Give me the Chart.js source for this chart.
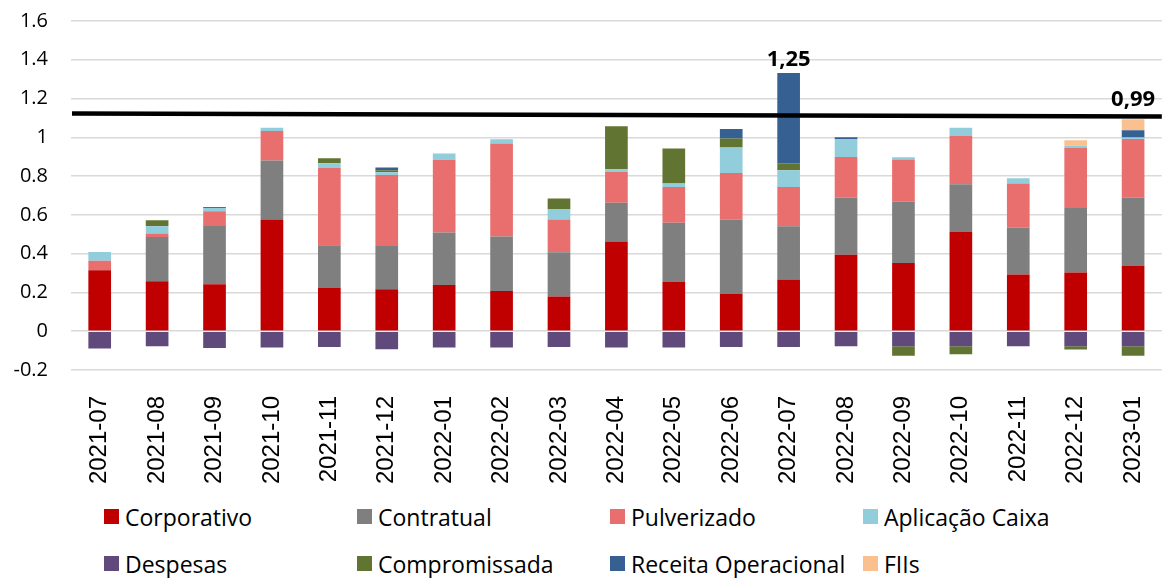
<!DOCTYPE html>
<html>
<head>
<meta charset="utf-8">
<script src="https://cdn.jsdelivr.net/npm/chart.js@4"></script>
<style>
    html, body { margin: 0; padding: 0; background: #fff; overflow: hidden; }
    #wrap { position: relative; width: 1180px; height: 578px; }
    #legend {
        position: absolute; left: 104px; top: 500px;
        display: grid; grid-template-columns: repeat(4, 253px); row-gap: 14px;
        font-family: "Open Sans", sans-serif; font-size: 23px; color: #000;
    }
    .item { display: flex; align-items: center; height: 33px; white-space: nowrap; }
    .box { width: 15px; height: 15px; margin-right: 6px; flex: none; }
</style>
</head>
<body>
<div id="wrap">
    <canvas id="chart" width="1180" height="490"></canvas>
    <div id="legend"></div>
</div>
<script>
const months = ['2021-07', '2021-08', '2021-09', '2021-10', '2021-11', '2021-12', '2022-01', '2022-02', '2022-03', '2022-04',
    '2022-05', '2022-06', '2022-07', '2022-08', '2022-09', '2022-10', '2022-11', '2022-12', '2023-01'];

const corporativo   = [0.315, 0.258, 0.242, 0.576, 0.223, 0.217, 0.239, 0.208, 0.179, 0.463, 0.254, 0.192, 0.267, 0.394, 0.352, 0.512, 0.292, 0.303, 0.337];
const contratual    = [0, 0.228, 0.301, 0.304, 0.221, 0.223, 0.270, 0.280, 0.228, 0.199, 0.305, 0.384, 0.274, 0.294, 0.317, 0.246, 0.243, 0.333, 0.353];
const pulverizado   = [0.048, 0.018, 0.076, 0.153, 0.398, 0.366, 0.375, 0.480, 0.169, 0.160, 0.185, 0.240, 0.203, 0.211, 0.217, 0.249, 0.227, 0.309, 0.302];
const aplicacao     = [0.045, 0.037, 0.017, 0.017, 0.024, 0.014, 0.032, 0.022, 0.055, 0.013, 0.018, 0.131, 0.086, 0.093, 0.011, 0.042, 0.027, 0.011, 0.007];
const despesas      = [-0.089, -0.077, -0.086, -0.084, -0.081, -0.093, -0.084, -0.084, -0.081, -0.084, -0.084, -0.081, -0.081, -0.077, -0.077, -0.077, -0.077, -0.077, -0.077];
const compromissada = [0, 0.031, 0.005, 0, 0.026, 0.010, 0, 0, 0.053, 0.222, 0.180, 0.047, 0.036, 0, -0.050, -0.042, 0, -0.017, -0.050];
const receita       = [0, 0, 0, 0, 0, 0.014, 0, 0, 0, 0, 0, 0.049, 0.466, 0.008, 0, 0, 0, 0, 0.038];
const fiis          = [0, 0, 0, 0, 0, 0, 0, 0, 0, 0, 0, 0, 0, 0, 0, 0, 0, 0.029, 0.056];

// net totals shown above two bars
const totalIdx  = [12, 18];
const totalText = ['1,25', '0,99'];

// target line (slightly tilted in the original)
const targetStart = 1.123;
const targetEnd   = 1.107;

const series = [
    ['Corporativo', corporativo, '#C00000'],
    ['Contratual', contratual, '#7F7F7F'],
    ['Pulverizado', pulverizado, '#E96F6E'],
    ['Aplicação Caixa', aplicacao, '#92CDDC'],
    ['Despesas', despesas, '#604A7B'],
    ['Compromissada', compromissada, '#617431'],
    ['Receita Operacional', receita, '#376092'],
    ['FIIs', fiis, '#FAC090']
];

const extras = {
    id: 'extras',
    afterDatasetsDraw(chart, args, opts) {
        const {ctx, chartArea, scales: {y}} = chart;
        ctx.save();
        // black target line
        ctx.strokeStyle = '#000';
        ctx.lineWidth = 4.5;
        ctx.beginPath();
        ctx.moveTo(chartArea.left + 1, y.getPixelForValue(targetStart));
        ctx.lineTo(chartArea.right, y.getPixelForValue(targetEnd));
        ctx.stroke();

        // total labels on top of the stacks
        ctx.font = 'bold 22px "Open Sans"';
        ctx.fillStyle = '#000';
        ctx.textAlign = 'center';
        ctx.textBaseline = 'alphabetic';
        totalIdx.forEach((idx, k) => {
            let top = Infinity, x = 0;
            chart.data.datasets.forEach((ds, i) => {
                if (ds.data[idx] > 0) {
                    const bar = chart.getDatasetMeta(i).data[idx];
                    if (bar.y < top) { top = bar.y; x = bar.x; }
                }
            });
            ctx.fillText(totalText[k], x, top - opts.gaps[k]);
        });
        ctx.restore();
    }
};

const chart = new Chart(document.getElementById('chart'), {
    type: 'bar',
    data: {
        labels: months,
        datasets: series.map(([label, data, color]) => ({
            label, data,
            backgroundColor: color,
            borderWidth: 0,
            categoryPercentage: 1,
            barPercentage: 0.395
        }))
    },
    options: {
        responsive: false,
        animation: false,
        layout: { padding: { top: 21, right: 4, left: 0, bottom: 0 } },
        plugins: {
            legend: { display: false },
            tooltip: { enabled: false },
            extras: { gaps: [7, 13] }
        },
        scales: {
            x: {
                stacked: true,
                grid: { display: false },
                border: { display: false },
                afterFit: s => { s.height = 120; },
                ticks: {
                    minRotation: 90, maxRotation: 90,
                    padding: 18,
                    color: '#000',
                    font: { family: 'Liberation Sans, Arial, sans-serif', size: 24 }
                }
            },
            y: {
                stacked: true,
                min: -0.2, max: 1.6,
                afterFit: s => {
                    s.width = 71;
                    // the tick padding would otherwise push the plot down
                    s.paddingTop = 0;
                    s.paddingBottom = 0;
                },
                grid: { color: '#d9d9d9', lineWidth: 1.5, drawTicks: false },
                border: { display: false },
                ticks: {
                    stepSize: 0.2,
                    padding: 23,
                    color: '#000',
                    font: { family: '"Open Sans"', size: 20 },
                    callback: v => String(+v.toFixed(1))
                }
            }
        }
    },
    plugins: [extras]
});

// legend laid out as a 4-column grid like the original
const legendEl = document.getElementById('legend');
chart.data.datasets.forEach(ds => {
    const item = document.createElement('div');
    item.className = 'item';
    const box = document.createElement('span');
    box.className = 'box';
    box.style.background = ds.backgroundColor;
    item.appendChild(box);
    item.appendChild(document.createTextNode(ds.label));
    legendEl.appendChild(item);
});
</script>
</body>
</html>
